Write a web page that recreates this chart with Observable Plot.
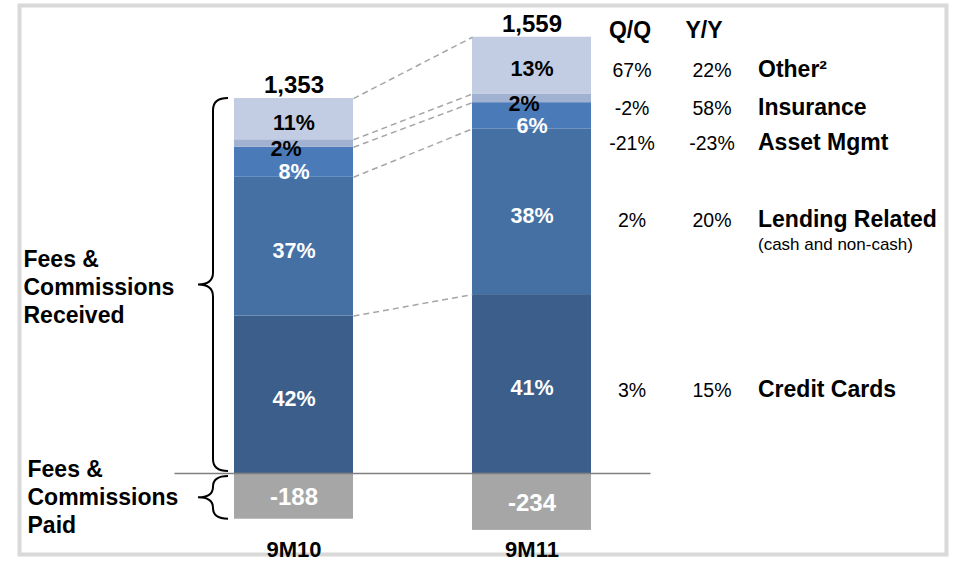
<!DOCTYPE html>
<html>
<head>
<meta charset="utf-8">
<script src="https://cdn.jsdelivr.net/npm/d3@7"></script>
<script src="https://cdn.jsdelivr.net/npm/@observablehq/plot@0.6"></script>
<style>
  body { margin: 0; background: #fff; }
  svg { display: block; }
</style>
</head>
<body>
<div id="chart"></div>
<script>
// ---- data ----
const periods = ["9M10", "9M11"];
const netTotals = [1353, 1559];
const paid = [-188, -234];
const categories = ["Credit Cards", "Lending Related", "Asset Mgmt", "Insurance", "Other²"];
const shares9M10 = [42, 37, 8, 2, 11];
const shares9M11 = [41, 38, 6, 2, 13];
const qqChange = ["3%", "2%", "-21%", "-2%", "67%"];
const yyChange = ["15%", "20%", "-23%", "58%", "22%"];
const subNotes = ["", "(cash and non-cash)", "", "", ""];

// ---- styles ----
const segColors = ["#3B5E8B", "#4470A4", "#4A7BB8", "#A0B1D2", "#C2CDE3"];
const labelColors = ["#fff", "#fff", "#fff", "#000", "#000"];
const paidColor = "#A6A6A6";
const labelDy = [4, 4, 10, 6, 4];
const rowDy = [7, 9, 28, 10, 5];
const FONT = "Liberation Sans, Arial, Helvetica, sans-serif";

// ---- derived table ----
const received = periods.map((p, i) => netTotals[i] - paid[i]);
const segs = [];
periods.forEach((p, i) => {
  const sh = i === 0 ? shares9M10 : shares9M11;
  let acc = 0;
  categories.forEach((c, j) => {
    const v = received[i] * sh[j] / 100;
    segs.push({period: p, i, cat: c, j, share: sh[j], y1: acc, y2: acc + v});
    acc += v;
  });
});
const paidRows = periods.map((p, i) => ({period: p, i, v: paid[i]}));
const links = categories.map((c, j) => ({
  j,
  a: segs.find(d => d.i === 0 && d.j === j).y2,
  b: segs.find(d => d.i === 1 && d.j === j).y2
}));
const last = segs.filter(d => d.i === 1);
const half = 0.25;

const marks = [
  Plot.frame({stroke: "#D9D9D9", strokeWidth: 4, insetLeft: 19, insetRight: 16, insetTop: 5, insetBottom: 9}),
  Plot.rectY(segs, {x1: d => d.i - half, x2: d => d.i + half, y1: "y1", y2: "y2", fill: d => segColors[d.j]}),
  Plot.rectY(paidRows, {x1: d => d.i - half, x2: d => d.i + half, y1: () => 0, y2: "v", fill: paidColor}),
  Plot.ruleY([0], {x1: () => -0.5, x2: () => 1.5, stroke: "#808080", strokeWidth: 1.5}),
  Plot.link(links, {x1: () => half, x2: () => 1 - half, y1: "a", y2: "b",
    stroke: "#A6A6A6", strokeWidth: 1.5, strokeDasharray: "6,4"}),
  // totals
  Plot.text(periods, {x: (d, i) => i, y: (d, i) => received[i], text: (d, i) => d3.format(",")(netTotals[i]),
    dy: (-13), fontSize: 24, fontWeight: "bold", fill: "#000"}),
  // paid labels
  Plot.text(paidRows, {x: "i", y: d => d.v / 2, text: d => String(d.v), dy: 1,
    fontSize: 24, fontWeight: "bold", fill: "#fff"}),
  // period labels
  Plot.text(periods, {x: (d, i) => i, frameAnchor: "bottom", lineAnchor: "middle", dy: -14, text: d => d,
    fontSize: 22, fontWeight: "bold", fill: "#000"}),
  // headers
  Plot.text(["Q/Q"], {x: () => 1, frameAnchor: "top", lineAnchor: "middle", dy: 30, dx: 98, text: d => d,
    fontSize: 23, fontWeight: "bold", fill: "#000"}),
  Plot.text(["Y/Y"], {x: () => 1, frameAnchor: "top", lineAnchor: "middle", dy: 30, dx: 172, text: d => d,
    fontSize: 23, fontWeight: "bold", fill: "#000"}),
  // left side labels
  Plot.text(["Fees &\nCommissions\nReceived"], {frameAnchor: "left", dx: 23, y: () => received[0] / 2,
    text: d => d, textAnchor: "start", lineHeight: 1.22, fontSize: 23, fontWeight: "bold", fill: "#000"}),
  Plot.text(["Fees &\nCommissions\nPaid"], {frameAnchor: "left", dx: 27, y: () => paid[0] / 2,
    text: d => d, textAnchor: "start", lineHeight: 1.22, fontSize: 23, fontWeight: "bold", fill: "#000"})
];

categories.forEach((c, j) => {
  const rows = segs.filter(d => d.j === j);
  marks.push(Plot.text(rows, {x: "i", y: d => (d.y1 + d.y2) / 2, text: d => d.share + "%",
    dy: labelDy[j], dx: j === 3 ? -8 : 0, fontSize: 21.5, fontWeight: "bold", fill: labelColors[j]}));
  const r = last.filter(d => d.j === j);
  marks.push(Plot.text(r, {x: "i", y: d => (d.y1 + d.y2) / 2, text: () => qqChange[j],
    dy: rowDy[j], dx: 100, fontSize: 19.5, fill: "#000"}));
  marks.push(Plot.text(r, {x: "i", y: d => (d.y1 + d.y2) / 2, text: () => yyChange[j],
    dy: rowDy[j], dx: 180, fontSize: 19.5, fill: "#000"}));
  marks.push(Plot.text(r, {x: "i", y: d => (d.y1 + d.y2) / 2, text: () => c,
    dy: rowDy[j] - 1, dx: 226, textAnchor: "start", fontSize: 23, fontWeight: "bold", fill: "#000"}));
  if (subNotes[j]) {
    marks.push(Plot.text(r, {x: "i", y: d => (d.y1 + d.y2) / 2, text: () => subNotes[j],
      dy: rowDy[j] + 24, dx: 226, textAnchor: "start", fontSize: 17, fill: "#000"}));
  }
});

const plot = Plot.plot({
  width: 962,
  height: 563,
  margin: 0,
  style: {fontFamily: FONT, background: "#fff", overflow: "visible"},
  x: {type: "linear", domain: [-0.5, 1.5], range: [174.5, 650.5], axis: null},
  y: {domain: [-370, 1944], range: [563, 0], axis: null},
  marks
});

// curly braces, positioned with the plot's own scales
const xs = plot.scale("x"), ys = plot.scale("y");
function brace(yTop, yBot, xv) {
  const ym = (yTop + yBot) / 2, r = Math.min(12, (yBot - yTop) / 4);
  const xt = xv - 15, xe = xv + 15;
  return `M${xe},${yTop} Q${xv},${yTop} ${xv},${yTop + r} L${xv},${ym - r} Q${xv},${ym} ${xt},${ym}` +
         ` Q${xv},${ym} ${xv},${ym + r} L${xv},${yBot - r} Q${xv},${yBot} ${xe},${yBot}`;
}
const xv = xs.apply(-half) - 21;
const g = d3.select(plot).append("g").attr("fill", "none").attr("stroke", "#000").attr("stroke-width", 2);
g.append("path").attr("d", brace(ys.apply(received[0]), ys.apply(0) - 2, xv));
g.append("path").attr("d", brace(ys.apply(0) + 3, ys.apply(paid[0]), xv));

document.getElementById("chart").appendChild(plot);
</script>
</body>
</html>
